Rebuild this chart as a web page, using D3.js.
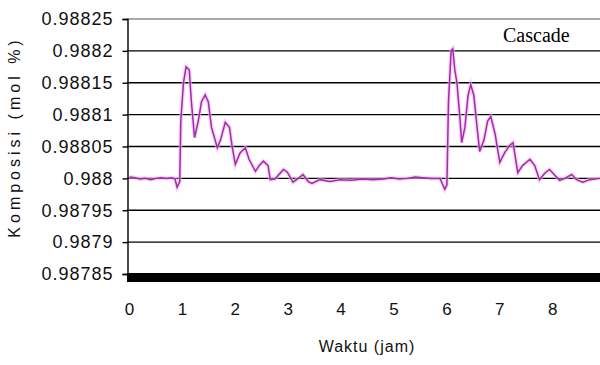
<!DOCTYPE html>
<html>
<head>
<meta charset="utf-8">
<script src="https://cdn.jsdelivr.net/npm/d3@7"></script>
<style>
body { margin: 0; background: #fff; }
</style>
</head>
<body>
<svg></svg>
<script>

// komposisi vs waktu, two disturbances (t=1 and t=6)

var screen = {width:600,height:365}

var yTicks = [0.98785, 0.9879, 0.98795, 0.988, 0.98805, 0.9881, 0.98815, 0.9882, 0.98825]
var yTickLabels = ["0.98785","0.9879","0.98795","0.988","0.98805","0.9881","0.98815","0.9882","0.98825"]
var xTicks = [0,1,2,3,4,5,6,7,8]

var xTitle = "Waktu (jam)"
var yTitle = "Komposisi (mol %)"
var legendText = "Cascade"

// time (jam)
var times = [0,0.1,0.2,0.3,0.4,0.5,0.6,0.7,0.8,0.86,0.9,0.95,0.97,1.02,1.07,1.13,1.17,1.23,1.3,1.36,1.43,1.49,1.55,1.66,1.72,1.81,1.89,1.94,2.0,2.09,2.19,2.26,2.38,2.45,2.53,2.62,2.66,2.75,2.91,2.98,3.09,3.19,3.28,3.38,3.45,3.6,3.79,3.98,4.2,4.4,4.6,4.8,4.95,5.1,5.25,5.4,5.55,5.7,5.87,5.96,6.0,6.03,6.08,6.11,6.15,6.19,6.25,6.28,6.34,6.4,6.45,6.51,6.57,6.62,6.7,6.77,6.83,6.91,7.0,7.09,7.19,7.25,7.34,7.43,7.57,7.66,7.75,7.85,7.94,8.04,8.13,8.23,8.36,8.45,8.57,8.7,8.89]

// komposisi (mol %) at each time
var values = [0.988002,0.988001,0.987999,0.988,0.987998,0.988,0.988001,0.988,0.988001,0.987999,0.987986,0.987995,0.98809,0.98815,0.988175,0.98817,0.98812,0.988064,0.98809,0.98812,0.988131,0.98812,0.98808,0.988048,0.98806,0.988088,0.98808,0.98805,0.988022,0.98804,0.988048,0.98803,0.988011,0.98802,0.988027,0.98802,0.987998,0.987999,0.988014,0.98801,0.987994,0.988,0.988006,0.987995,0.987992,0.987998,0.987995,0.987998,0.987997,0.987999,0.987998,0.987999,0.988001,0.987999,0.988,0.988002,0.988001,0.988,0.988,0.987983,0.98799,0.98812,0.9882,0.988203,0.98817,0.98815,0.98809,0.988056,0.98808,0.98813,0.988147,0.98813,0.98808,0.988042,0.98806,0.98809,0.988097,0.98807,0.988025,0.98804,0.988052,0.988056,0.988009,0.98802,0.98803,0.98802,0.987998,0.988008,0.988014,0.988005,0.987997,0.988,0.988006,0.987998,0.987994,0.987998,0.988]

var data = times.map(function(t,i){ return {t:t, v:values[i]} })

var svg = d3.select("svg")
    .attr("width",screen.width)
    .attr("height",screen.height)

var xScale = d3.scaleLinear()
    .domain([0,9])
    .range([129.5,129.5+9*52.9])

var yScale = d3.scaleLinear()
    .domain([0.98785,0.98825])
    .range([274,19])

var plotRight = 600

// gridlines
svg.append("g")
    .selectAll("line")
    .data(yTicks)
    .enter()
    .append("line")
    .attr("x1",127)
    .attr("x2",plotRight)
    .attr("y1",function(d){return yScale(d)})
    .attr("y2",function(d){return yScale(d)})
    .attr("stroke",function(d,i){ return i==yTicks.length-1 ? "#8a8a8a" : "#000"})
    .attr("stroke-width",1.4)

// left axis
var yAxis = d3.axisLeft(yScale)
    .tickValues(yTicks)
    .tickFormat(function(d,i){return yTickLabels[i]})
    .tickSize(5)
    .tickPadding(9)

var yg = svg.append("g")
    .attr("transform","translate(127.5,0)")
    .call(yAxis)

yg.select(".domain").attr("stroke","#000").attr("stroke-width",1.4)
yg.selectAll(".tick line").attr("stroke","#000").attr("stroke-width",1.4)
yg.selectAll("text")
    .attr("fill","#111")
    .style("font-family","'Liberation Sans', Arial, sans-serif")
    .style("font-size","18px")
    .style("letter-spacing","1px")

// thick bottom bar (x axis)
svg.append("rect")
    .attr("x",127)
    .attr("y",yScale(0.98785)-1)
    .attr("width",plotRight-127)
    .attr("height",9)
    .attr("fill","#000")

// x tick labels
svg.append("g")
    .selectAll("text")
    .data(xTicks)
    .enter()
    .append("text")
    .attr("x",function(d){return xScale(d)})
    .attr("y",315)
    .attr("text-anchor","middle")
    .attr("fill","#111")
    .style("font-family","'Liberation Sans', Arial, sans-serif")
    .style("font-size","17px")
    .text(function(d){return d})

// the series
var line = d3.line()
    .x(function(d){return xScale(d.t)})
    .y(function(d){return yScale(d.v)})

svg.append("path")
    .datum(data)
    .attr("d",line)
    .attr("fill","none")
    .attr("stroke","#f0b8f0")
    .attr("stroke-width",4)
    .attr("opacity",0.6)

svg.append("path")
    .datum(data)
    .attr("d",line)
    .attr("fill","none")
    .attr("stroke","#a02ca8")
    .attr("stroke-width",1.5)

// axis titles
svg.append("text")
    .attr("x",367)
    .attr("y",352)
    .attr("text-anchor","middle")
    .attr("fill","#111")
    .style("font-family","'Liberation Sans', Arial, sans-serif")
    .style("font-size","16px")
    .style("letter-spacing","1px")
    .text(xTitle)

svg.append("text")
    .attr("transform","translate(20,137) rotate(-90)")
    .attr("text-anchor","middle")
    .attr("fill","#111")
    .style("font-family","'Liberation Sans', Arial, sans-serif")
    .style("font-size","16px")
    .style("letter-spacing","4px")
    .text(yTitle)

// legend label
svg.append("text")
    .attr("x",503)
    .attr("y",42)
    .attr("fill","#000")
    .style("font-family","'Liberation Serif', 'Times New Roman', serif")
    .style("font-size","20px")
    .text(legendText)

</script>
</body>
</html>
